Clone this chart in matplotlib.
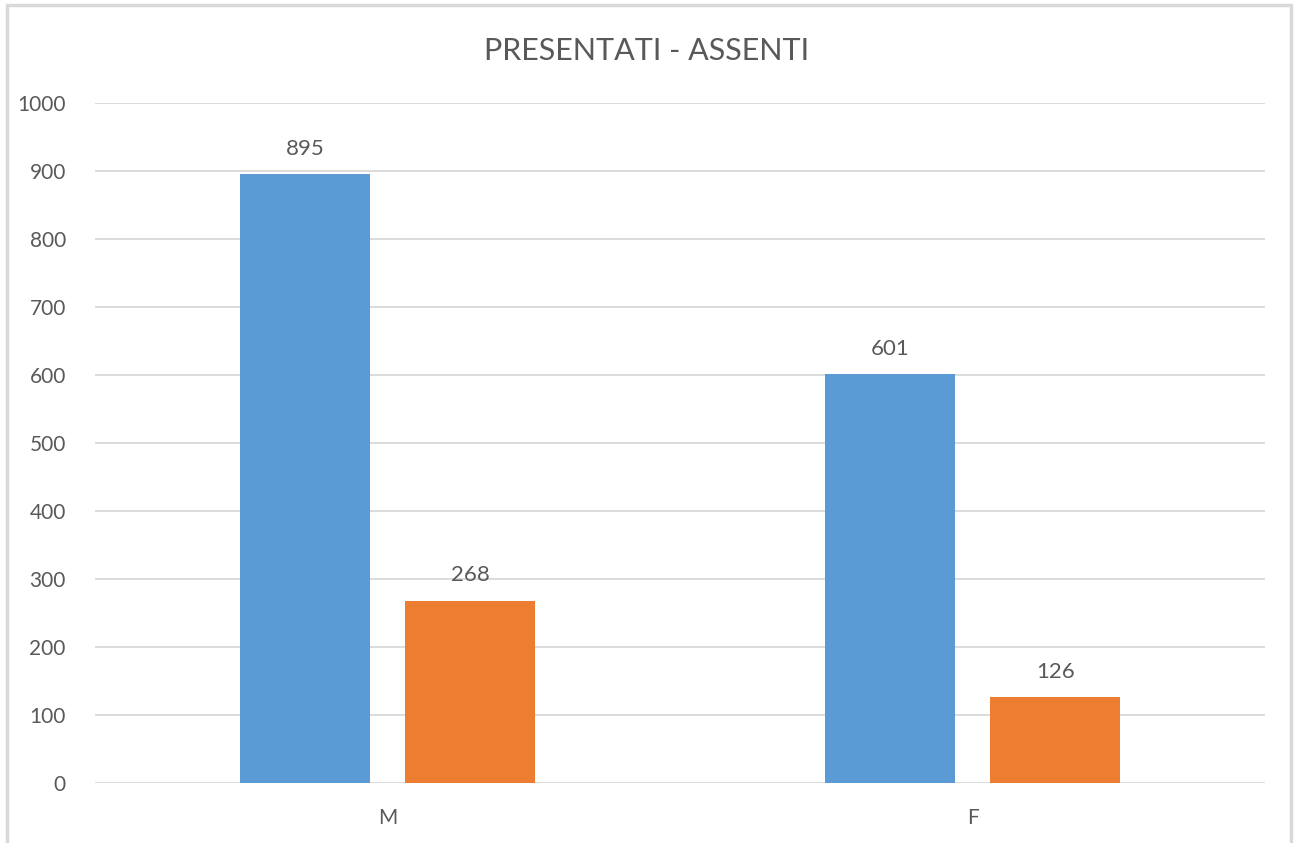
import matplotlib.pyplot as plt
import numpy as np
from matplotlib.patches import Rectangle

categories = ['M', 'F']
presentati = [895, 601]
assenti = [268, 126]
yticks = [0, 100, 200, 300, 400, 500, 600, 700, 800, 900, 1000]

BLUE = '#5B9BD5'
ORANGE = '#ED7D31'
TEXT = '#595959'
GRID = '#D9D9D9'

plt.rcParams['font.family'] = ['Lato', 'DejaVu Sans']

fig = plt.figure(figsize=(12.94, 8.43), dpi=100)
ax = fig.add_axes([0.0734, 0.0712, 0.9044, 0.8066])

x = np.arange(len(categories))
width = 0.222
off = 0.141
b1 = ax.bar(x - off, presentati, width, color=BLUE, zorder=3)
b2 = ax.bar(x + off, assenti, width, color=ORANGE, zorder=3)

for bars in (b1, b2):
    for rect in bars:
        h = rect.get_height()
        ax.annotate(f'{h:.0f}', (rect.get_x() + rect.get_width() / 2, h),
                    xytext=(0, 11), textcoords='offset points',
                    ha='center', va='bottom', fontsize=16, color=TEXT)

ax.set_xlim(-0.5, 1.5)
ax.set_ylim(0, 1000)
ax.set_yticks(yticks)
ax.set_xticks(x)
ax.set_xticklabels(categories)
ax.yaxis.grid(True, color=GRID, linewidth=1.3, zorder=0)
ax.set_axisbelow(True)
for s in ax.spines.values():
    s.set_visible(False)
ax.tick_params(axis='both', length=0, labelsize=15, labelcolor=TEXT)
ax.tick_params(axis='y', pad=21)
ax.tick_params(axis='x', pad=18)

fig.text(0.5, 0.94, 'PRESENTATI - ASSENTI', ha='center', va='center',
         fontsize=22, color=TEXT)

# chart border
fig.patches.append(Rectangle((7 / 1294, -0.05), 1284 / 1294, 1.05 - 5 / 843,
                             transform=fig.transFigure, fill=False,
                             edgecolor=GRID, linewidth=2.5))

fig.savefig('out.png', dpi=100)
